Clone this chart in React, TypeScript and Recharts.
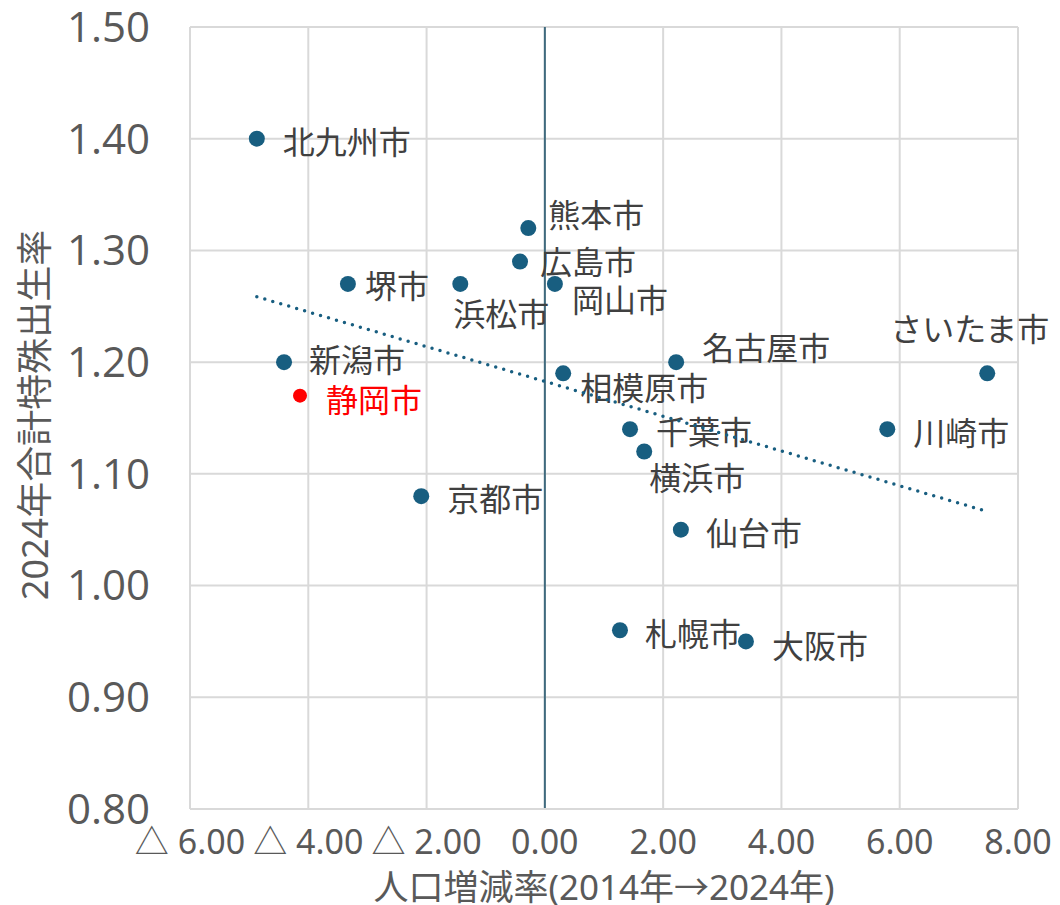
import { ScatterChart, Scatter, XAxis, YAxis, CartesianGrid, ReferenceLine, Label } from "recharts";

// 政令市: 人口増減率(2014→2024, %) と 2024年合計特殊出生率
const cities = [
  "北九州市", "堺市", "新潟市", "静岡市", "京都市", "浜松市",
  "広島市", "熊本市", "岡山市", "相模原市", "名古屋市", "千葉市",
  "横浜市", "仙台市", "札幌市", "大阪市", "川崎市", "さいたま市",
];
const popChange = [
  -4.87, -3.33, -4.41, -4.14, -2.09, -1.43,
  -0.42, -0.28, 0.17, 0.31, 2.22, 1.44,
  1.68, 2.30, 1.27, 3.40, 5.79, 7.48,
];
const birthRate = [
  1.40, 1.27, 1.20, 1.17, 1.08, 1.27,
  1.29, 1.32, 1.27, 1.19, 1.20, 1.14,
  1.12, 1.05, 0.96, 0.95, 1.14, 1.19,
];
const highlightCity = "静岡市";
const xTicks = [-6, -4, -2, 0, 2, 4, 6, 8];
const yTicks = [0.8, 0.9, 1.0, 1.1, 1.2, 1.3, 1.4, 1.5];

const BLUE = "#185E80";
const RED = "#FF0000";

// label placement: dx = point centre -> text start, dy = point centre -> text middle
const labelPos: Record<string, [number, number]> = {
  北九州市: [26, 1],
  堺市: [17, 0],
  新潟市: [25, -4],
  静岡市: [26, 2],
  京都市: [26, 1],
  浜松市: [-7, 28],
  広島市: [20, -2],
  熊本市: [20, -15],
  岡山市: [17, 14],
  相模原市: [17, 13],
  名古屋市: [26, -16],
  千葉市: [26, 1],
  横浜市: [5, 24],
  仙台市: [25, 1],
  札幌市: [25, 2],
  大阪市: [26, 3],
  川崎市: [26, 2],
  さいたま市: [-97, -46],
};

const points = cities.map((name, i) => ({ name, x: popChange[i], y: birthRate[i] }));
const mainPoints = points.filter((p) => p.name !== highlightCity);
const hiPoints = points.filter((p) => p.name === highlightCity);

// linear trend (least squares) over all cities
const n = popChange.length;
const mx = popChange.reduce((s, v) => s + v, 0) / n;
const my = birthRate.reduce((s, v) => s + v, 0) / n;
let sxy = 0;
let sxx = 0;
for (let i = 0; i < n; i++) {
  sxy += (popChange[i] - mx) * (birthRate[i] - my);
  sxx += (popChange[i] - mx) ** 2;
}
const slope = sxy / sxx;
const icept = my - slope * mx;
const xMin = Math.min(...popChange);
const xMax = Math.max(...popChange);
const trend = [
  { x: xMin, y: icept + slope * xMin },
  { x: xMax, y: icept + slope * xMax },
];

const fmtX = (v: number) => (v < 0 ? `△ ${Math.abs(v).toFixed(2)}` : v.toFixed(2));

function makeDot(color: string, r: number) {
  // eslint-disable-next-line @typescript-eslint/no-explicit-any
  return (props: any) => {
    const { cx, cy, payload } = props;
    const [dx, dy] = labelPos[payload.name] || [20, 0];
    return (
      <g>
        <circle cx={cx} cy={cy} r={r} fill={color} />
        <text
          x={cx + dx}
          y={cy + dy}
          dominantBaseline="central"
          fontSize={32}
          fontFamily="'Noto Sans CJK JP', sans-serif"
          fill={color === RED ? RED : "#404040"}
        >
          {payload.name}
        </text>
      </g>
    );
  };
}

export default function App() {
  return (
    <div style={{ position: "absolute", left: 0, top: 0, background: "#fff" }}>
      <ScatterChart width={1060} height={905} margin={{ top: 27, right: 42, bottom: 0, left: 0 }}>
        <CartesianGrid stroke="#D9D9D9" strokeWidth={2} horizontalValues={yTicks} verticalValues={xTicks} />
        <XAxis
          type="number"
          dataKey="x"
          domain={[-6, 8]}
          ticks={xTicks}
          interval={0}
          height={96}
          tickFormatter={fmtX}
          tickLine={false}
          tickSize={0}
          tickMargin={21}
          axisLine={{ stroke: "#D9D9D9", strokeWidth: 2 }}
          tick={{ fill: "#595959", fontSize: 34, fontFamily: "'Noto Sans', 'Noto Sans CJK JP', sans-serif" }}
        >
          <Label
            content={() => (
              <text
                x={604}
                y={886}
                textAnchor="middle"
                dominantBaseline="central"
                fontSize={35}
                fontFamily="'Noto Sans', 'Noto Sans CJK JP', sans-serif"
                fill="#595959"
              >
                人口増減率(2014年→2024年)
              </text>
            )}
          />
        </XAxis>
        <YAxis
          type="number"
          dataKey="y"
          domain={[0.8, 1.5]}
          ticks={yTicks}
          interval={0}
          width={190}
          tickFormatter={(v: number) => v.toFixed(2)}
          tickLine={false}
          tickSize={0}
          tickMargin={40}
          axisLine={{ stroke: "#D9D9D9", strokeWidth: 2 }}
          tick={{ fill: "#595959", fontSize: 42, fontFamily: "'Open Sans', 'Noto Sans', sans-serif" }}
        >
          <Label
            content={() => (
              <text
                x={34}
                y={415}
                transform="rotate(-90 34 415)"
                textAnchor="middle"
                dominantBaseline="central"
                fontSize={36}
                fontFamily="'Noto Sans', 'Noto Sans CJK JP', sans-serif"
                fill="#595959"
              >
                2024年合計特殊出生率
              </text>
            )}
          />
        </YAxis>
        <ReferenceLine x={0} stroke="#3F6A7E" strokeWidth={2} />
        <Scatter data={mainPoints} shape={makeDot(BLUE, 8)} isAnimationActive={false} />
        <Scatter data={hiPoints} shape={makeDot(RED, 7)} isAnimationActive={false} />
        <Scatter
          data={trend}
          line={{ stroke: BLUE, strokeWidth: 3.5, strokeDasharray: "0 8.3", strokeLinecap: "round" }}
          shape={() => <g />}
          isAnimationActive={false}
        />
      </ScatterChart>
    </div>
  );
}
